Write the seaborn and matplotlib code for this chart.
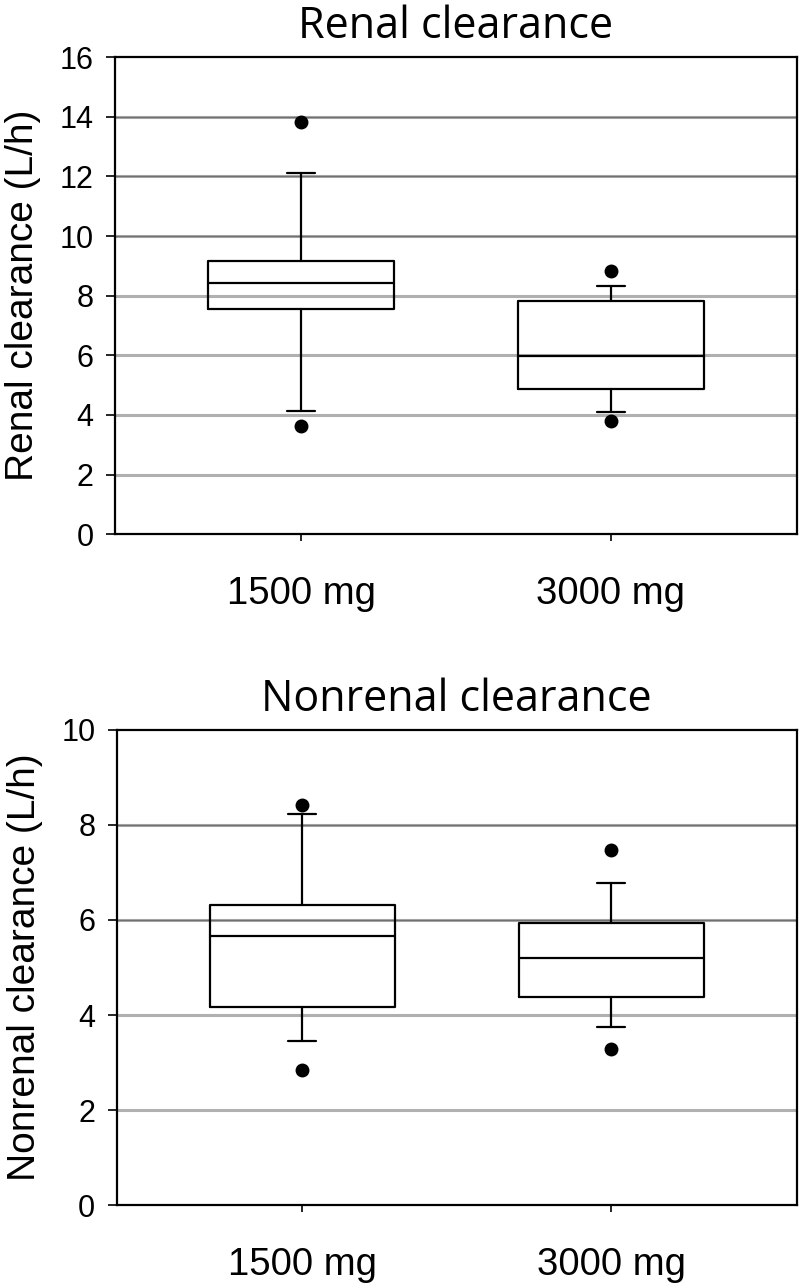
import seaborn as sns
from matplotlib import pyplot as plt

# dose groups
groups = ['1500 mg', '3000 mg']

# renal clearance (L/h): 10th pct, Q1, median, Q3, 90th pct, outliers
renal_low = [4.13, 4.09]
renal_q1 = [7.55, 4.87]
renal_med = [8.41, 5.96]
renal_q3 = [9.17, 7.81]
renal_high = [12.13, 8.34]
renal_out = [[3.62, 13.82], [3.80, 8.83]]

# nonrenal clearance (L/h)
nonrenal_low = [3.45, 3.75]
nonrenal_q1 = [4.17, 4.38]
nonrenal_med = [5.66, 5.20]
nonrenal_q3 = [6.32, 5.94]
nonrenal_high = [8.24, 6.77]
nonrenal_out = [[2.84, 8.41], [3.28, 7.47]]

renal_ticks = [0, 2, 4, 6, 8, 10, 12, 14, 16]
nonrenal_ticks = [0, 2, 4, 6, 8, 10]
# grid lines that come out darker in the original
renal_dark = [10, 12, 14]
nonrenal_dark = [6, 8]


def make_stats(low, q1, med, q3, high, out):
    stats = []
    for i in range(len(groups)):
        stats.append({'whislo': low[i], 'q1': q1[i], 'med': med[i], 'q3': q3[i],
                      'whishi': high[i], 'fliers': out[i], 'label': groups[i]})
    return stats


def draw_panel(ax, stats, ticks, dark, title, ylabel):
    for t in ticks[1:-1]:
        ax.axhline(t, color='#b0b0b0', lw=2.2, zorder=0)
    for t in dark:
        ax.axhline(t, color='#707070', lw=1.0, zorder=0.5)
    line = dict(color='black', linewidth=1.6)
    ax.bxp(stats, positions=range(len(groups)), widths=0.6, capwidths=0.09,
           boxprops=line, medianprops=line, whiskerprops=line, capprops=line,
           flierprops=dict(marker='o', markerfacecolor='black', markeredgecolor='black',
                           markersize=9, linestyle='none'))
    ax.set_xlim(-0.6, 1.6)
    ax.set_ylim(ticks[0], ticks[-1])
    ax.set_yticks(ticks)
    ax.set_xticks(range(len(groups)))
    ax.set_xticklabels(groups, fontsize=27.5, family='Liberation Sans')
    ax.set_yticklabels([str(t) for t in ticks], fontsize=22, family='Liberation Sans')
    ax.tick_params(axis='x', direction='out', length=5, width=1.2, pad=25, bottom=True, colors='black')
    ax.tick_params(axis='y', direction='out', length=6.5, width=1.2, pad=9, left=True, colors='black')
    ax.set_ylabel(ylabel, fontsize=28, family='Liberation Sans', labelpad=13, color='black')
    ax.set_title(title, fontsize=31, family='Open Sans', pad=14, color='black')
    for s in ax.spines.values():
        s.set_visible(True)
        s.set_color('black')
        s.set_linewidth(1.6)


sns.set_theme(style="white")
plt.rcParams['text.color'] = 'black'
fig = plt.figure(figsize=(8, 12.84), dpi=100)
ax1 = fig.add_axes([0.144, 0.584, 0.852, 0.3715])
ax2 = fig.add_axes([0.146, 0.0615, 0.850, 0.370])

draw_panel(ax1, make_stats(renal_low, renal_q1, renal_med, renal_q3, renal_high, renal_out),
           renal_ticks, renal_dark, 'Renal clearance', 'Renal clearance (L/h)')
draw_panel(ax2, make_stats(nonrenal_low, nonrenal_q1, nonrenal_med, nonrenal_q3, nonrenal_high, nonrenal_out),
           nonrenal_ticks, nonrenal_dark, 'Nonrenal clearance', 'Nonrenal clearance (L/h)')

fig.savefig('out.png', dpi=100)
plt.close(fig)
